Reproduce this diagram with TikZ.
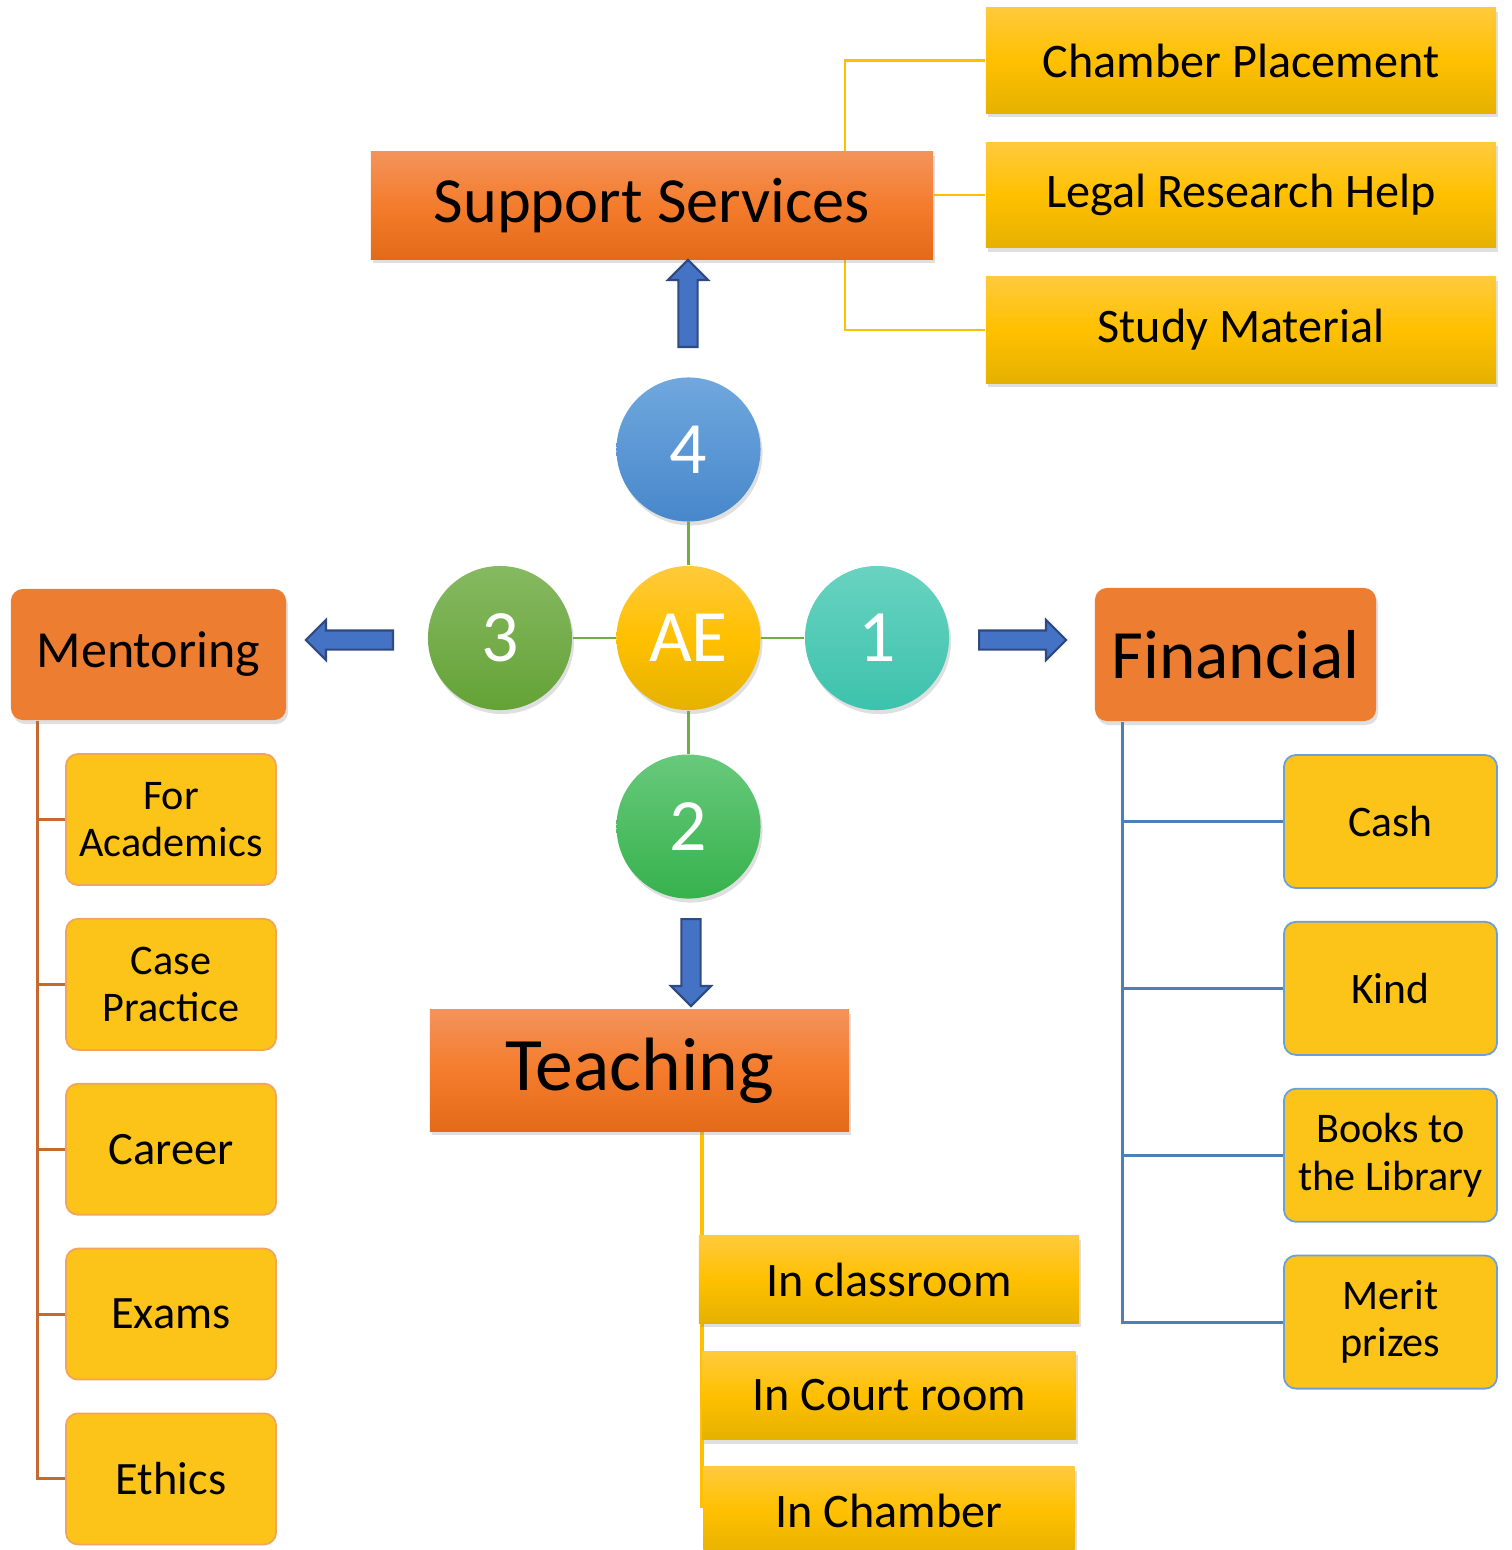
\documentclass[tikz,border=0pt]{standalone}
\usepackage{fontspec}
\setmainfont{Carlito}
\usepackage{tikz}
\usetikzlibrary{shapes,shapes.arrows,shadows,backgrounds,positioning}

\definecolor{orangetop}{HTML}{F3935B}
\definecolor{orangemid}{HTML}{F47C2C}
\definecolor{orangebot}{HTML}{E36A18}
\definecolor{goldtop}{HTML}{FFCA3C}
\definecolor{goldmid}{HTML}{FFC000}
\definecolor{goldbot}{HTML}{E5B100}
\definecolor{boxorange}{HTML}{ED7D31}
\definecolor{subgold}{HTML}{FCC419}
\definecolor{mentedge}{HTML}{F4A45A}
\definecolor{mentline}{HTML}{C46A2E}
\definecolor{finedge}{HTML}{6A9FD8}
\definecolor{finline}{HTML}{4F7FB8}
\definecolor{arrowblue}{HTML}{4472C4}
\definecolor{arrowedge}{HTML}{2F4A80}
\definecolor{hubgreen}{HTML}{70AD47}
\definecolor{bluetop}{HTML}{70A8DE}
\definecolor{bluebot}{HTML}{4787CB}
\definecolor{tealtop}{HTML}{68D3C0}
\definecolor{tealbot}{HTML}{3DC2AD}
\definecolor{olivetop}{HTML}{86B961}
\definecolor{olivebot}{HTML}{64A236}
\definecolor{greentop}{HTML}{68C97C}
\definecolor{greenbot}{HTML}{36B24C}

\tikzset{
  softshadow/.style={drop shadow={opacity=0.25,shadow xshift=0.02cm,shadow yshift=-0.04cm}},
  headbox/.style={rectangle,top color=orangetop,bottom color=orangebot,middle color=orangemid,softshadow,inner sep=0pt},
  headround/.style={rectangle,rounded corners=0.12cm,fill=boxorange,softshadow,inner sep=0pt},
  goldbox/.style={rectangle,top color=goldtop,bottom color=goldbot,middle color=goldmid,softshadow,inner sep=0pt,font={\fontsize{13.7}{16.4}\selectfont}},
  mentbox/.style={rectangle,rounded corners=0.12cm,fill=subgold,draw=mentedge,line width=0.5pt,align=center,inner sep=0pt,minimum width=2.1cm,minimum height=1.31cm},
  finbox/.style={rectangle,rounded corners=0.12cm,fill=subgold,draw=finedge,line width=0.5pt,align=center,inner sep=0pt,minimum width=2.13cm,minimum height=1.33cm},
  numcircle/.style={circle,minimum size=1.44cm,inner sep=0pt,text=white,softshadow,font={\fontsize{21}{25}\selectfont}},
  blockarrow/.style={single arrow,fill=arrowblue,draw=arrowedge,line width=0.6pt,minimum width=0.38cm,single arrow head extend=0.105cm,minimum height=0.87cm,inner sep=0.085cm,anchor=tail},
  hubline/.style={draw=hubgreen,line width=0.6pt},
  node distance=0.43cm
}

\begin{document}
\begin{tikzpicture}[x=0.01cm,y=-0.01cm]
\useasboundingbox (0,0) rectangle (1512,1550);

\node[numcircle,top color=goldtop,bottom color=goldbot,middle color=goldmid] (ae) at (688.5,638) {AE};
\node[numcircle,top color=tealtop,bottom color=tealbot] (c1) [right=of ae] {1};
\node[numcircle,top color=greentop,bottom color=greenbot] (c2) [below=of ae] {2};
\node[numcircle,top color=olivetop,bottom color=olivebot] (c3) [left=of ae] {3};
\node[numcircle,top color=bluetop,bottom color=bluebot] (c4) [above=of ae] {4};
\draw[hubline] (ae) -- (c1);
\draw[hubline] (ae) -- (c2);
\draw[hubline] (ae) -- (c3);
\draw[hubline] (ae) -- (c4);

\node[headbox,minimum width=5.62cm,minimum height=1.07cm,font={\fontsize{18.3}{22}\selectfont}] (sup) at (652,205.5) {Support Services};
\node[goldbox,minimum width=5.1cm,minimum height=1.05cm] (cp) at (1241,60.5) {Chamber Placement};
\node[goldbox,minimum width=5.1cm,minimum height=1.05cm,below=0.28cm of cp] (lr) {Legal Research Help};
\node[goldbox,minimum width=5.1cm,minimum height=1.06cm,below=0.28cm of lr] (sm) {Study Material};

\node[headround,minimum width=2.75cm,minimum height=1.31cm,font={\fontsize{14.8}{17}\selectfont}] (ment) at (148.5,654.5) {Mentoring};
\node[mentbox,font={\fontsize{12}{13.4}\selectfont}] (m1) at (171,819.5) {For\\Academics};
\node[mentbox,font={\fontsize{12}{13.4}\selectfont},below=0.32cm of m1] (m2) {Case\\Practice};
\node[mentbox,font={\fontsize{13.2}{15}\selectfont},below=0.32cm of m2] (m3) {Career};
\node[mentbox,font={\fontsize{13.2}{15}\selectfont},below=0.32cm of m3] (m4) {Exams};
\node[mentbox,font={\fontsize{13.2}{15}\selectfont},below=0.32cm of m4] (m5) {Ethics};

\node[headround,minimum width=2.81cm,minimum height=1.33cm,font={\fontsize{19.7}{24}\selectfont}] (fin) at (1235.5,654.5) {Financial};
\node[finbox,font={\fontsize{12.4}{13.6}\selectfont}] (f1) at (1390.5,821.5) {Cash};
\node[finbox,font={\fontsize{12.4}{13.6}\selectfont},below=0.32cm of f1] (f2) {Kind};
\node[finbox,font={\fontsize{12}{13.4}\selectfont},below=0.32cm of f2] (f3) {Books to\\the Library};
\node[finbox,font={\fontsize{12}{13.4}\selectfont},below=0.32cm of f3] (f4) {Merit\\prizes};

\node[headbox,minimum width=4.19cm,minimum height=1.21cm,font={\fontsize{21.5}{26}\selectfont}] (teach) at (639.5,1070.5) {Teaching};

\begin{scope}[on background layer]
\coordinate (tbus) at ([xshift=0.625cm]teach.south);
\draw[goldmid,line width=1.1pt] (tbus) -- (tbus |- 0,1508);
\end{scope}
\node[goldbox,minimum width=3.8cm,minimum height=0.87cm] (t1) at (889,1279.5) {In classroom};
\node[goldbox,minimum width=3.73cm,minimum height=0.88cm,below=0.27cm of t1] (t2) {In Court room};
\node[goldbox,minimum width=3.71cm,minimum height=0.88cm,below=0.26cm of t2] (t3) {In Chamber};

\begin{scope}[on background layer]
\draw[goldmid,line width=0.6pt] (cp.west) -- ++(-140,0) |- (sm.west);
\draw[goldmid,line width=0.6pt] (lr.west) -- (lr.west -| sup.east);
\coordinate (mbus) at ([xshift=0.27cm]ment.south west);
\draw[mentline,line width=0.85pt] (mbus) |- (m5.west);
\draw[mentline,line width=0.85pt] (m1.west) -- (m1.west -| mbus);
\draw[mentline,line width=0.85pt] (m2.west) -- (m2.west -| mbus);
\draw[mentline,line width=0.85pt] (m3.west) -- (m3.west -| mbus);
\draw[mentline,line width=0.85pt] (m4.west) -- (m4.west -| mbus);
\coordinate (fbus) at ([xshift=0.28cm]fin.south west);
\draw[finline,line width=0.85pt] (fbus) |- (f4.west);
\draw[finline,line width=0.85pt] (f1.west) -- (f1.west -| fbus);
\draw[finline,line width=0.85pt] (f2.west) -- (f2.west -| fbus);
\draw[finline,line width=0.85pt] (f3.west) -- (f3.west -| fbus);
\end{scope}

\node[blockarrow,shape border rotate=90] (aup) at (688,348) {};
\node[blockarrow,shape border rotate=180] (aleft) at (394,640) {};
\node[blockarrow] (aright) at (978,640) {};
\node[blockarrow,shape border rotate=270] (adown) at (691,918) {};
\end{tikzpicture}
\end{document}
